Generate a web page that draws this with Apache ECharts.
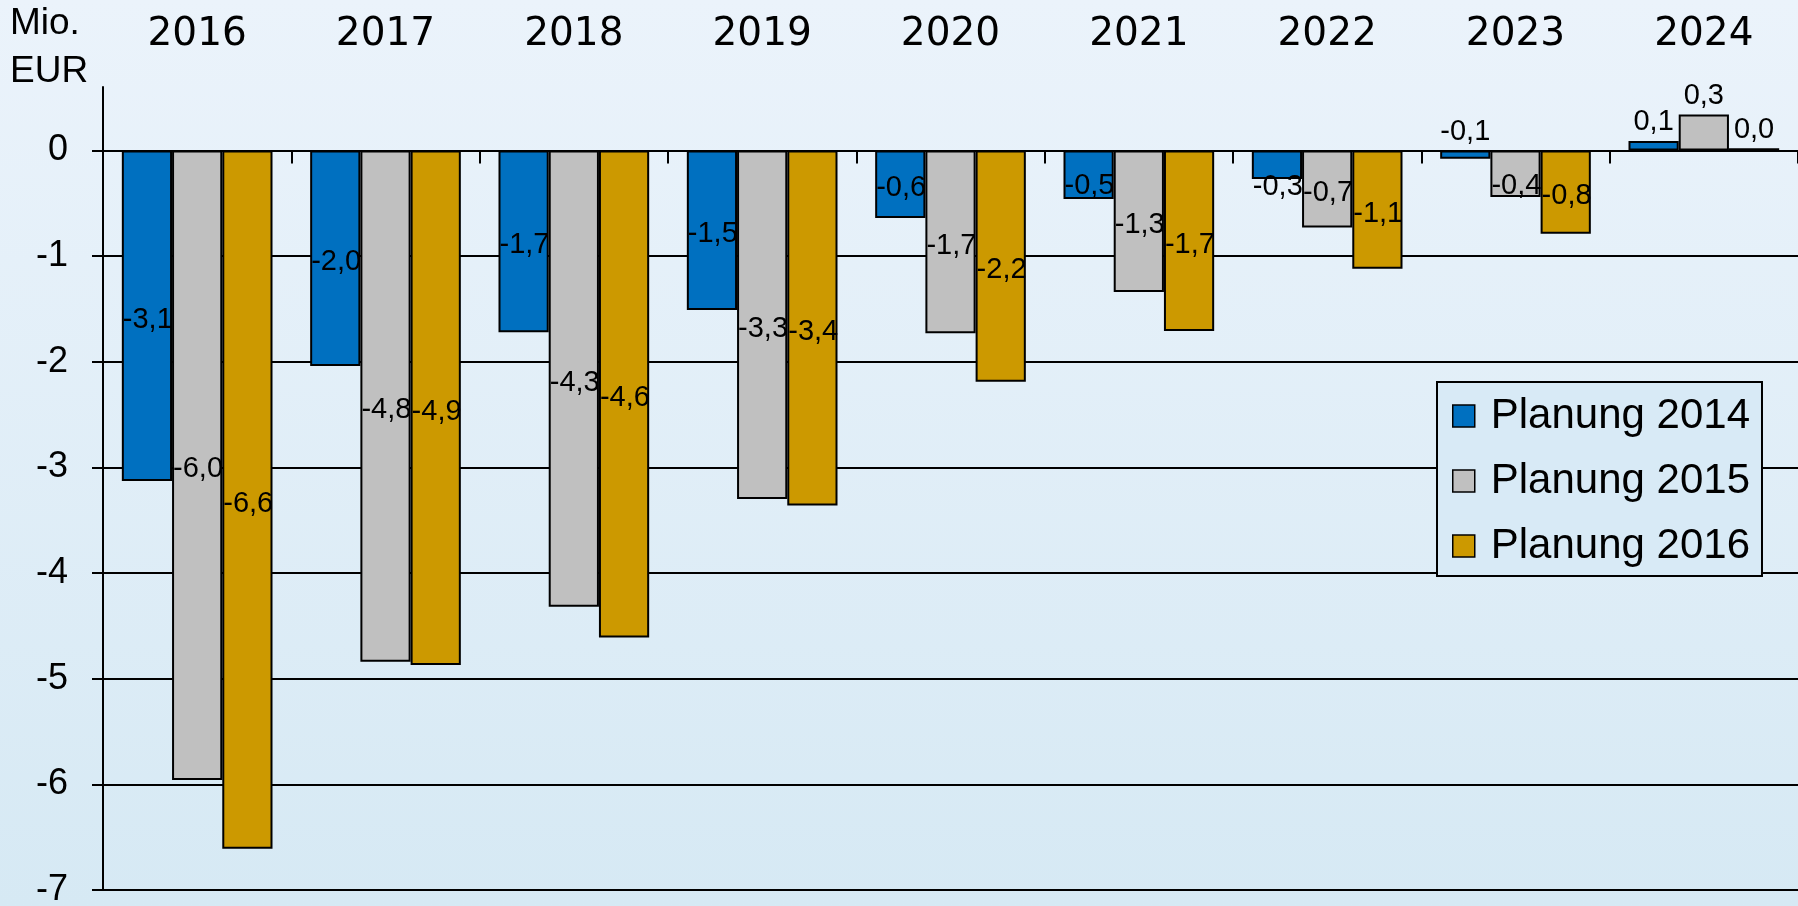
<!DOCTYPE html>
<html>
<head>
<meta charset="utf-8">
<title>Planung 2014 - 2016</title>
<style>
    html, body { margin: 0; padding: 0; }
    #main { width: 1798px; height: 906px; }
</style>
</head>
<body>
<div id="main"></div>
<script src="https://cdn.jsdelivr.net/npm/echarts@6.0.0/dist/echarts.min.js"></script>
<script type="text/javascript">
    // Werte in Mio. EUR
    var years = ['2016', '2017', '2018', '2019', '2020', '2021', '2022', '2023', '2024'];
    var plan2014 = [-3.13, -2.04, -1.72, -1.51, -0.64, -0.46, -0.27, -0.08, 0.09];
    var plan2015 = [-5.96, -4.84, -4.32, -3.30, -1.73, -1.34, -0.73, -0.44, 0.34];
    var plan2016 = [-6.61, -4.87, -4.61, -3.36, -2.19, -1.71, -1.12, -0.79, 0.02];
    var yTicks = [-7, -6, -5, -4, -3, -2, -1, 0];

    // labels of short bars sit a bit lower than the bar centre
    var labelShift = {
        'Planung 2014': {5: 11, 6: 22},
        'Planung 2015': {7: 12}
    };

    function buildData(name, values) {
        return values.map(function (v, i) {
            var item = {value: v};
            if (v > -0.2) {
                // tiny bars: label on top, centred
                item.label = {position: 'top', distance: 4, offset: [0, 0]};
            } else {
                var dy = (labelShift[name] && labelShift[name][i]) || 4;
                item.label = {offset: [0, dy]};
            }
            return item;
        });
    }

    function barSeries(name, values, color) {
        return {
            name: name,
            type: 'bar',
            xAxisIndex: 0,
            barGap: 0,
            barCategoryGap: '20%',
            data: buildData(name, values),
            itemStyle: {
                color: color,
                borderColor: '#000',
                borderWidth: 2
            },
            label: {
                show: true,
                position: 'insideLeft',
                distance: 1,
                color: '#000',
                fontFamily: 'Liberation Sans, Arial',
                fontSize: 29,
                formatter: function (p) {
                    return p.value.toFixed(1).replace('.', ',');
                }
            }
        };
    }

    var myChart = echarts.init(document.getElementById('main'));
    var option = {
        animation: false,
        backgroundColor: new echarts.graphic.LinearGradient(0, 0, 0, 1, [
            {offset: 0, color: '#ebf3fb'},
            {offset: 1, color: '#d6e9f4'}
        ]),
        title: {
            text: 'Mio.\nEUR',
            left: 10,
            top: 0,
            padding: 0,
            textStyle: {
                fontFamily: 'Liberation Sans, Arial',
                fontSize: 37,
                fontWeight: 'normal',
                lineHeight: 48,
                color: '#000'
            }
        },
        legend: {
            orient: 'vertical',
            left: 1437,
            top: 382,
            padding: [13, 12, 9, 15],
            itemGap: 23,
            itemWidth: 22,
            itemHeight: 22,
            icon: 'rect',
            backgroundColor: '#d8eaf6',
            borderColor: '#000',
            borderWidth: 2,
            borderRadius: 0,
            itemStyle: {borderColor: '#000', borderWidth: 1.5},
            textStyle: {
                fontFamily: 'Liberation Sans, Arial',
                fontSize: 42,
                lineHeight: 40,
                color: '#000',
                padding: [0, 0, 0, 11]
            },
            data: ['Planung 2014', 'Planung 2015', 'Planung 2016']
        },
        grid: {
            left: 103,
            right: 0,
            top: 87,
            bottom: 16,
            outerBoundsMode: 'none'
        },
        xAxis: [{
            // year labels along the top edge
            type: 'category',
            position: 'top',
            data: years,
            axisLine: {show: false, onZero: false},
            axisTick: {show: false},
            axisLabel: {
                margin: 33,
                fontFamily: 'DejaVu Sans',
                fontSize: 39,
                lineHeight: 39,
                color: '#000'
            },
            splitLine: {show: false}
        }, {
            // zero line with the category ticks
            type: 'category',
            position: 'top',
            data: years,
            axisLine: {show: true, onZero: true, lineStyle: {color: '#000', width: 2}},
            axisTick: {show: true, inside: true, length: 13, lineStyle: {color: '#000', width: 2}},
            axisLabel: {show: false},
            splitLine: {show: false}
        }],
        yAxis: {
            type: 'value',
            min: -7,
            max: 0.6,
            interval: 1,
            axisLine: {show: true, lineStyle: {color: '#000', width: 2}},
            axisTick: {show: true, length: 11, customValues: yTicks, lineStyle: {color: '#000', width: 2}},
            axisLabel: {
                customValues: yTicks,
                margin: 35,
                fontFamily: 'Liberation Sans, Arial',
                fontSize: 36,
                color: '#000'
            },
            splitLine: {show: true, showMaxLine: false, lineStyle: {color: '#000', width: 2}}
        },
        series: [
            barSeries('Planung 2014', plan2014, '#0070c0'),
            barSeries('Planung 2015', plan2015, '#c0c0c0'),
            barSeries('Planung 2016', plan2016, '#cc9900')
        ]
    };
    myChart.setOption(option);
</script>
</body>
</html>
